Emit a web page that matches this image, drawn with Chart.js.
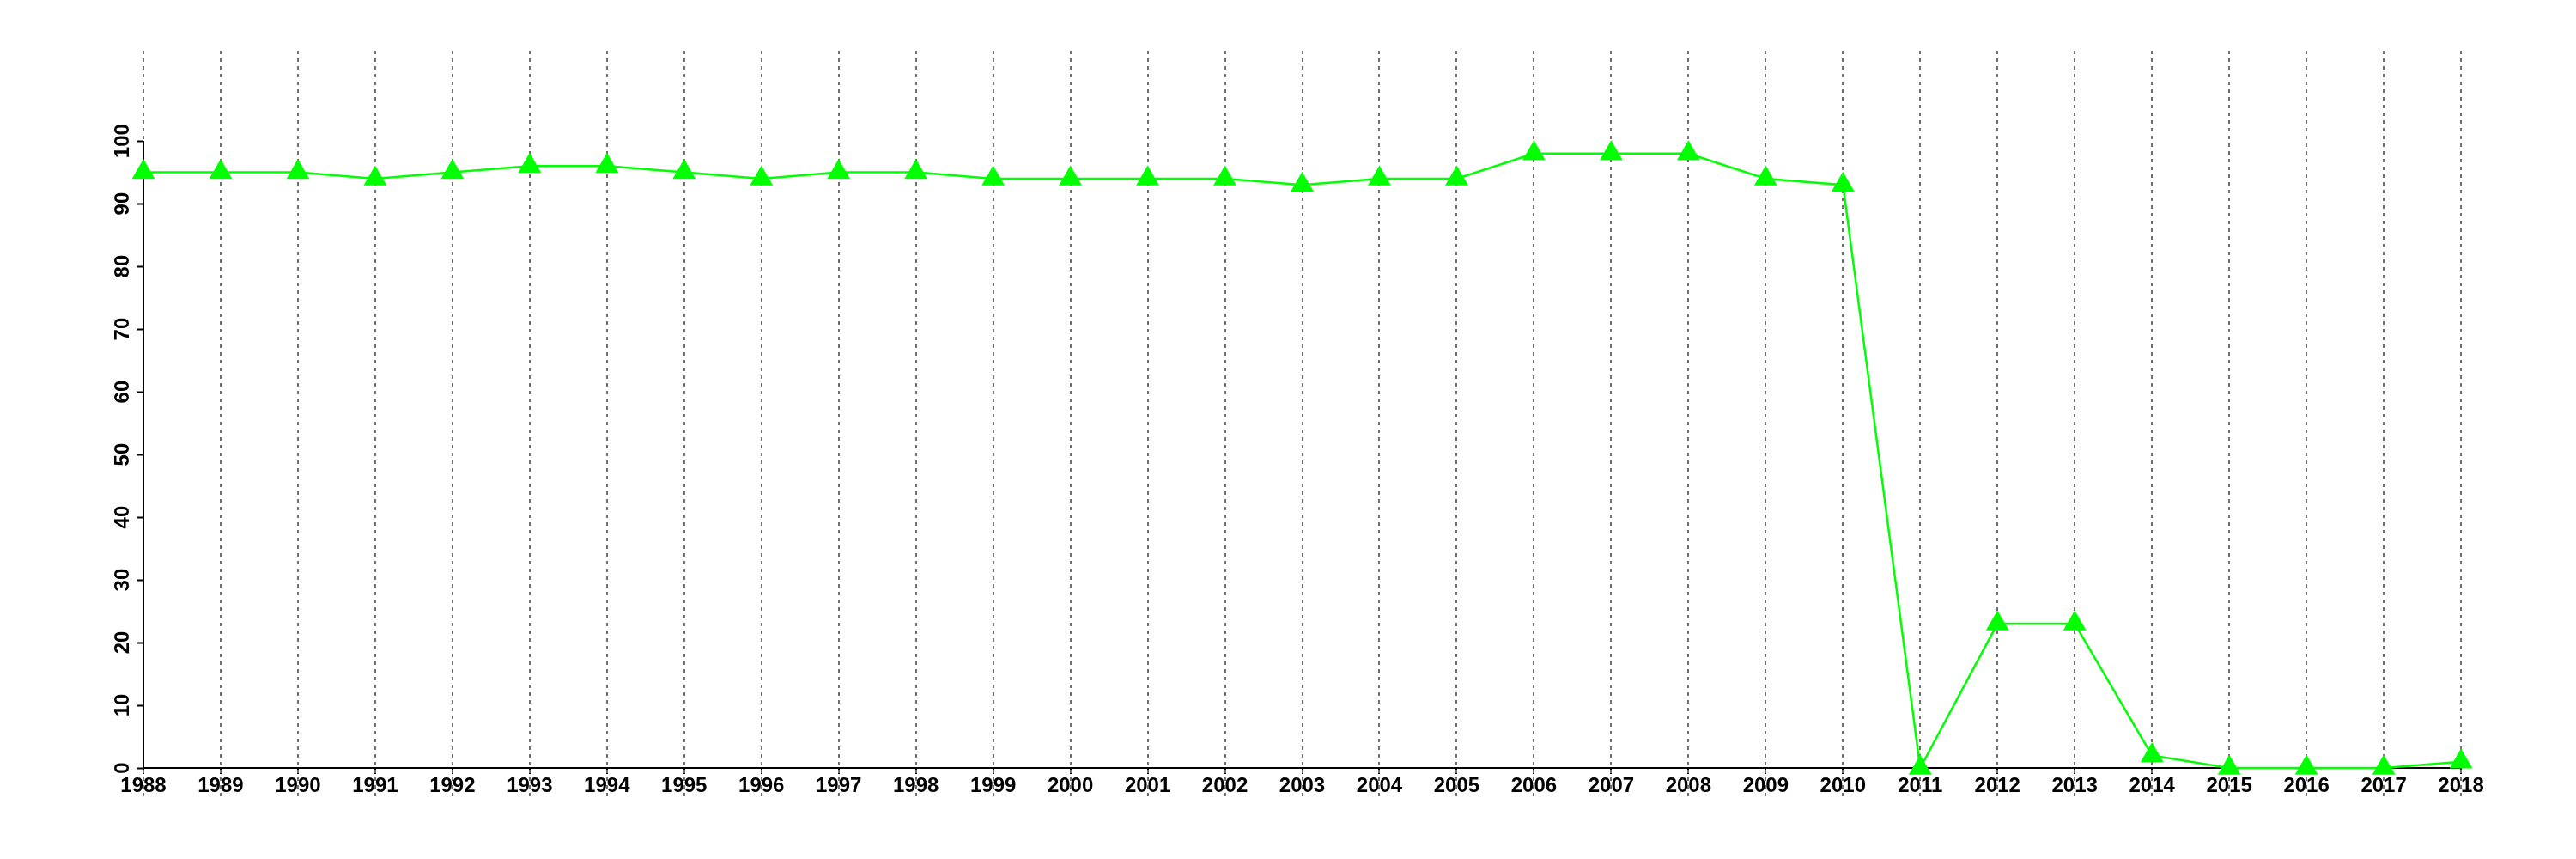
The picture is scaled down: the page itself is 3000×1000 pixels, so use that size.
<!DOCTYPE html>
<html>
<head>
<meta charset="utf-8">
<script src="https://cdn.jsdelivr.net/npm/chart.js@4"></script>
<style>
  html, body { margin: 0; padding: 0; background: #fff; }
  #grafico { display: block; }
</style>
</head>
<body>
<canvas id="grafico" width="3000" height="1000"></canvas>
<script>
const years = [1988, 1989, 1990, 1991, 1992, 1993, 1994, 1995, 1996, 1997, 1998, 1999, 2000,
  2001, 2002, 2003, 2004, 2005, 2006, 2007, 2008, 2009, 2010, 2011, 2012, 2013, 2014, 2015,
  2016, 2017, 2018];
const values = [95, 95, 95, 94, 95, 96, 96, 95, 94, 95, 95, 94, 94,
  94, 94, 93, 94, 94, 98, 98, 98, 94, 93, 0, 23, 23, 2, 0,
  0, 0, 1];
const yTicks = [0, 10, 20, 30, 40, 50, 60, 70, 80, 90, 100];

const FONT = { family: "'Liberation Sans', Arial, sans-serif", size: 24, weight: 'bold' };
const GRID_DASH = [4, 5];
const GRID_COLOR = '#707070';

// axis lines the way R draws them: only over the tick range
const axisLines = {
  id: 'axisLines',
  beforeDatasetsDraw(chart) {
    const ctx = chart.ctx;
    const xs = chart.scales.x, ys = chart.scales.y;
    const area = chart.chartArea;
    ctx.save();
    // dotted grid keeps going below the x axis
    ctx.strokeStyle = GRID_COLOR;
    ctx.lineWidth = 2;
    ctx.setLineDash(GRID_DASH);
    years.forEach(v => {
      const px = Math.round(xs.getPixelForValue(v));
      ctx.beginPath();
      ctx.moveTo(px, area.bottom + 2);
      ctx.lineTo(px, area.bottom + 33);
      ctx.stroke();
    });
    ctx.setLineDash([]);
    ctx.strokeStyle = '#000';
    ctx.lineWidth = 2;
    const x0 = xs.getPixelForValue(years[0]);
    const x1 = xs.getPixelForValue(years[years.length - 1]);
    const y0 = ys.getPixelForValue(0);
    const y1 = ys.getPixelForValue(100);
    ctx.beginPath();
    ctx.moveTo(x0, y0);
    ctx.lineTo(x1, y0);
    ctx.moveTo(x0, y0);
    ctx.lineTo(x0, y1);
    ctx.stroke();
    ctx.restore();
  }
};

const ctx = document.getElementById("grafico").getContext("2d");

new Chart(ctx, {
  type: 'line',
  data: {
    datasets: [{
      data: years.map((y, i) => ({ x: y, y: values[i] })),
      borderColor: '#00ff00',
      backgroundColor: '#00ff00',
      borderWidth: 2.5,
      pointStyle: 'triangle',
      pointRadius: 15.5,
      pointBorderWidth: 0,
      pointBackgroundColor: '#00ff00',
      tension: 0,
      clip: false
    }]
  },
  options: {
    responsive: false,
    animation: false,
    layout: { padding: { top: 59, right: 26, bottom: 56, left: 0 } },
    plugins: {
      legend: { display: false },
      tooltip: { enabled: false }
    },
    scales: {
      x: {
        type: 'linear',
        min: 1988,
        max: 2019.2,
        afterBuildTicks: axis => { axis.ticks = years.map(v => ({ value: v })); },
        afterFit: s => { s.height = 50; },
        grid: {
          color: GRID_COLOR,
          lineWidth: 2,
          drawTicks: true,
          tickLength: 7,
          tickColor: '#000',
          tickWidth: 2,
          tickBorderDash: []
        },
        border: { display: false, dash: GRID_DASH },
        ticks: {
          color: '#000',
          font: FONT,
          padding: 0,
          autoSkip: false,
          maxRotation: 0,
          callback: v => String(v)
        }
      },
      y: {
        type: 'linear',
        min: 0,
        max: 114.4,
        afterBuildTicks: axis => { axis.ticks = yTicks.map(v => ({ value: v })); },
        afterFit: s => { s.width = 167; },
        grid: {
          drawOnChartArea: false,
          drawTicks: true,
          tickLength: 8,
          tickColor: '#000',
          tickWidth: 2
        },
        border: { display: false },
        ticks: {
          color: '#000',
          font: FONT,
          padding: -4,
          minRotation: 90,
          maxRotation: 90,
          crossAlign: 'center',
          callback: v => String(v)
        }
      }
    }
  },
  plugins: [axisLines]
});
</script>
</body>
</html>
